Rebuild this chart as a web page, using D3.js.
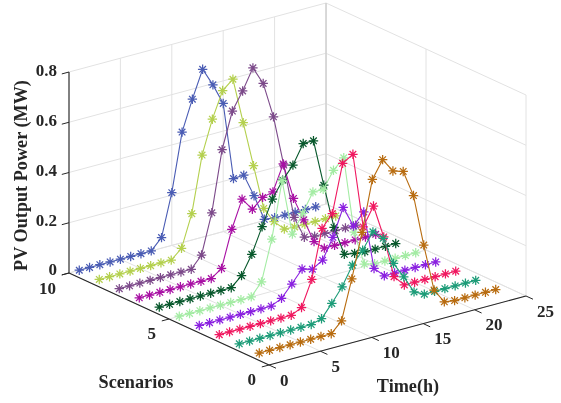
<!DOCTYPE html>
<html>
<head>
<meta charset="utf-8">
<script src="https://cdn.jsdelivr.net/npm/d3@7"></script>
<style>
html, body { margin: 0; padding: 0; background: #fff; }
text { font-family: "Liberation Serif", serif; font-weight: bold; fill: #262626; }
</style>
</head>
<body>
<div id="chart"></div>
<script>
var hours = d3.range(1, 25);
var scenarios = [10, 9, 8, 7, 6, 5, 4, 3, 2, 1];
var colors = ["#4a5cb4", "#b4d04e", "#7c4a8a", "#a810a4", "#08582c", "#a4eca4", "#8a20e0", "#f01860", "#1c9c78", "#b86c10"];

var s10 = [0,0,0,0,0,0,0,0,.042,.21,.44,.56,.668,.595,.51,.2,.203,.11,.005,0,0,0,0,0];
var s9 = [0,0,0,0,0,0,0,0,.036,.163,.385,.517,.62,.654,.47,.288,.107,.043,.003,0,0,0,0,0];
var s8 = [0,0,0,0,0,0,0,0,.046,.203,.443,.586,.655,.736,.663,.519,.316,.097,.007,0,0,0,0,0];
var s7 = [0,0,0,0,0,0,0,0,.029,.174,.283,.232,.268,.279,.379,.231,.135,.037,0,0,0,0,0,0];
var s6 = [0,0,0,0,0,0,0,0,.037,.111,.21,.309,.373,.422,.497,.497,.309,.13,.012,.005,0,0,0,0];
var s5 = [0,0,0,0,0,0,0,0,.049,.208,.43,.206,.278,.352,.351,.416,.455,.148,.01,0,0,0,0,0];
var s4 = [0,0,0,0,0,0,0,0,.02,.066,.115,.103,.128,.208,.316,.231,.276,.04,0,0,0,0,0,0];
var s3 = [0,0,0,0,0,0,0,0,.02,.121,.313,.361,.55,.575,.275,.347,.213,.044,0,0,0,0,0,0];
var s2 = [0,0,0,0,0,0,0,0,.012,.062,.117,.192,.241,.303,.266,.155,.091,.02,0,0,0,0,0,0];
var s1 = [0,0,0,0,0,0,0,0,.04,.196,.37,.57,.638,.582,.569,.462,.254,.064,.006,0,0,0,0,0];
var power = [s10, s9, s8, s7, s6, s5, s4, s3, s2, s1];

var xTicks = [0, 5, 10, 15, 20, 25];
var yTicks = [0, 5, 10];
var zTicks = [0, 0.2, 0.4, 0.6, 0.8];

var width = 561, height = 403;
var svg = d3.select("#chart").append("svg")
	.attr("width", width)
	.attr("height", height)
	.style("display", "block")
	.style("filter", "blur(0.35px)"); // the reference is a soft raster

// fake 3d: each data axis gets its own screen offset scale, added up in project()
var ox = 69, oy = 273;
var xToSx = d3.scaleLinear().domain([0, 25]).range([0, 257]);
var xToSy = d3.scaleLinear().domain([0, 25]).range([0, -69]);
var yToSx = d3.scaleLinear().domain([10, 0]).range([0, 200]);
var yToSy = d3.scaleLinear().domain([10, 0]).range([0, 92]);
var zToSy = d3.scaleLinear().domain([0, 0.8]).range([0, -201]);

function project(x, y, z) {
	return [ox + xToSx(x) + yToSx(y), oy + xToSy(x) + yToSy(y) + zToSy(z)];
}

function seg(g, a, b, color, w) {
	g.append("line")
		.attr("x1", a[0]).attr("y1", a[1])
		.attr("x2", b[0]).attr("y2", b[1])
		.attr("stroke", color)
		.attr("stroke-width", w);
}

// grid
var gridColor = "#e2e2e2";
var grid = svg.append("g");
zTicks.forEach(function(z) {
	seg(grid, project(0, 10, z), project(25, 10, z), gridColor, 1);
	seg(grid, project(25, 10, z), project(25, 0, z), gridColor, 1);
});
xTicks.forEach(function(x) {
	seg(grid, project(x, 10, 0), project(x, 0, 0), gridColor, 1);
	seg(grid, project(x, 10, 0), project(x, 10, 0.8), gridColor, 1);
});
yTicks.forEach(function(y) {
	seg(grid, project(0, y, 0), project(25, y, 0), gridColor, 1);
	seg(grid, project(25, y, 0), project(25, y, 0.8), gridColor, 1);
});
seg(grid, project(25, 10, 0), project(25, 10, 0.8), "#c8c8c8", 1);

// axes
var axisColor = "#262626";
var axes = svg.append("g");
seg(axes, project(0, 10, 0), project(0, 10, 0.8), axisColor, 1.1);
seg(axes, project(0, 10, 0), project(0, 0, 0), axisColor, 1.1);
seg(axes, project(0, 0, 0), project(25, 0, 0), axisColor, 1.1);

zTicks.forEach(function(z) {
	seg(axes, project(0, 10, z), project(-0.7, 10, z), axisColor, 1);
	axes.append("text").attr("class", "tick")
		.attr("x", project(0, 10, z)[0] - 12)
		.attr("y", project(0, 10, z)[1] + (z == 0 ? 2 : 3.5)) // the 0 sits right above the 10 of the other axis
		.attr("text-anchor", "end")
		.attr("font-size", 17)
		.text(z);
});
yTicks.forEach(function(y) {
	seg(axes, project(0, y, 0), project(-0.7, y, 0), axisColor, 1);
	axes.append("text").attr("class", "tick")
		.attr("x", project(0, y, 0)[0] - 13)
		.attr("y", project(0, y, 0)[1] + (y == 10 ? 21 : 20))
		.attr("text-anchor", "end")
		.attr("font-size", 17)
		.text(y);
});
xTicks.forEach(function(x) {
	seg(axes, project(x, 0, 0), project(x, -0.35, 0), axisColor, 1);
	axes.append("text").attr("class", "tick")
		.attr("x", project(x, 0, 0)[0] + 11)
		.attr("y", project(x, 0, 0)[1] + 20.5)
		.attr("text-anchor", "start")
		.attr("font-size", 17)
		.text(x);
});

svg.append("text")
	.attr("transform", "translate(27,175.5) rotate(-90)")
	.attr("text-anchor", "middle")
	.attr("font-size", 18.2)
	.text("PV Output Power (MW)");
svg.append("text")
	.attr("x", 136).attr("y", 387.5)
	.attr("text-anchor", "middle")
	.attr("font-size", 18.2)
	.text("Scenarios");
svg.append("text")
	.attr("x", 408).attr("y", 392)
	.attr("text-anchor", "middle")
	.attr("font-size", 18.2)
	.text("Time(h)");

// series, back one first so the front ones sit on top
var line = d3.line();
var starPath = "M0,-4.7V4.7M-4.7,0H4.7M-3.3,-3.3L3.3,3.3M-3.3,3.3L3.3,-3.3";

scenarios.forEach(function(y, i) {
	var pts = hours.map(function(h, j) { return project(h, y, power[i][j]); });
	var g = svg.append("g").attr("class", "series");
	g.append("path")
		.attr("d", line(pts))
		.attr("fill", "none")
		.attr("stroke", colors[i])
		.attr("stroke-width", 1.1);
	g.selectAll("path.star")
		.data(pts)
		.enter().append("path")
		.attr("class", "star")
		.attr("d", starPath)
		.attr("transform", function(d) { return "translate(" + d[0] + "," + d[1] + ")"; })
		.attr("fill", "none")
		.attr("stroke", colors[i])
		.attr("stroke-width", 1.25);
});
</script>
</body>
</html>
